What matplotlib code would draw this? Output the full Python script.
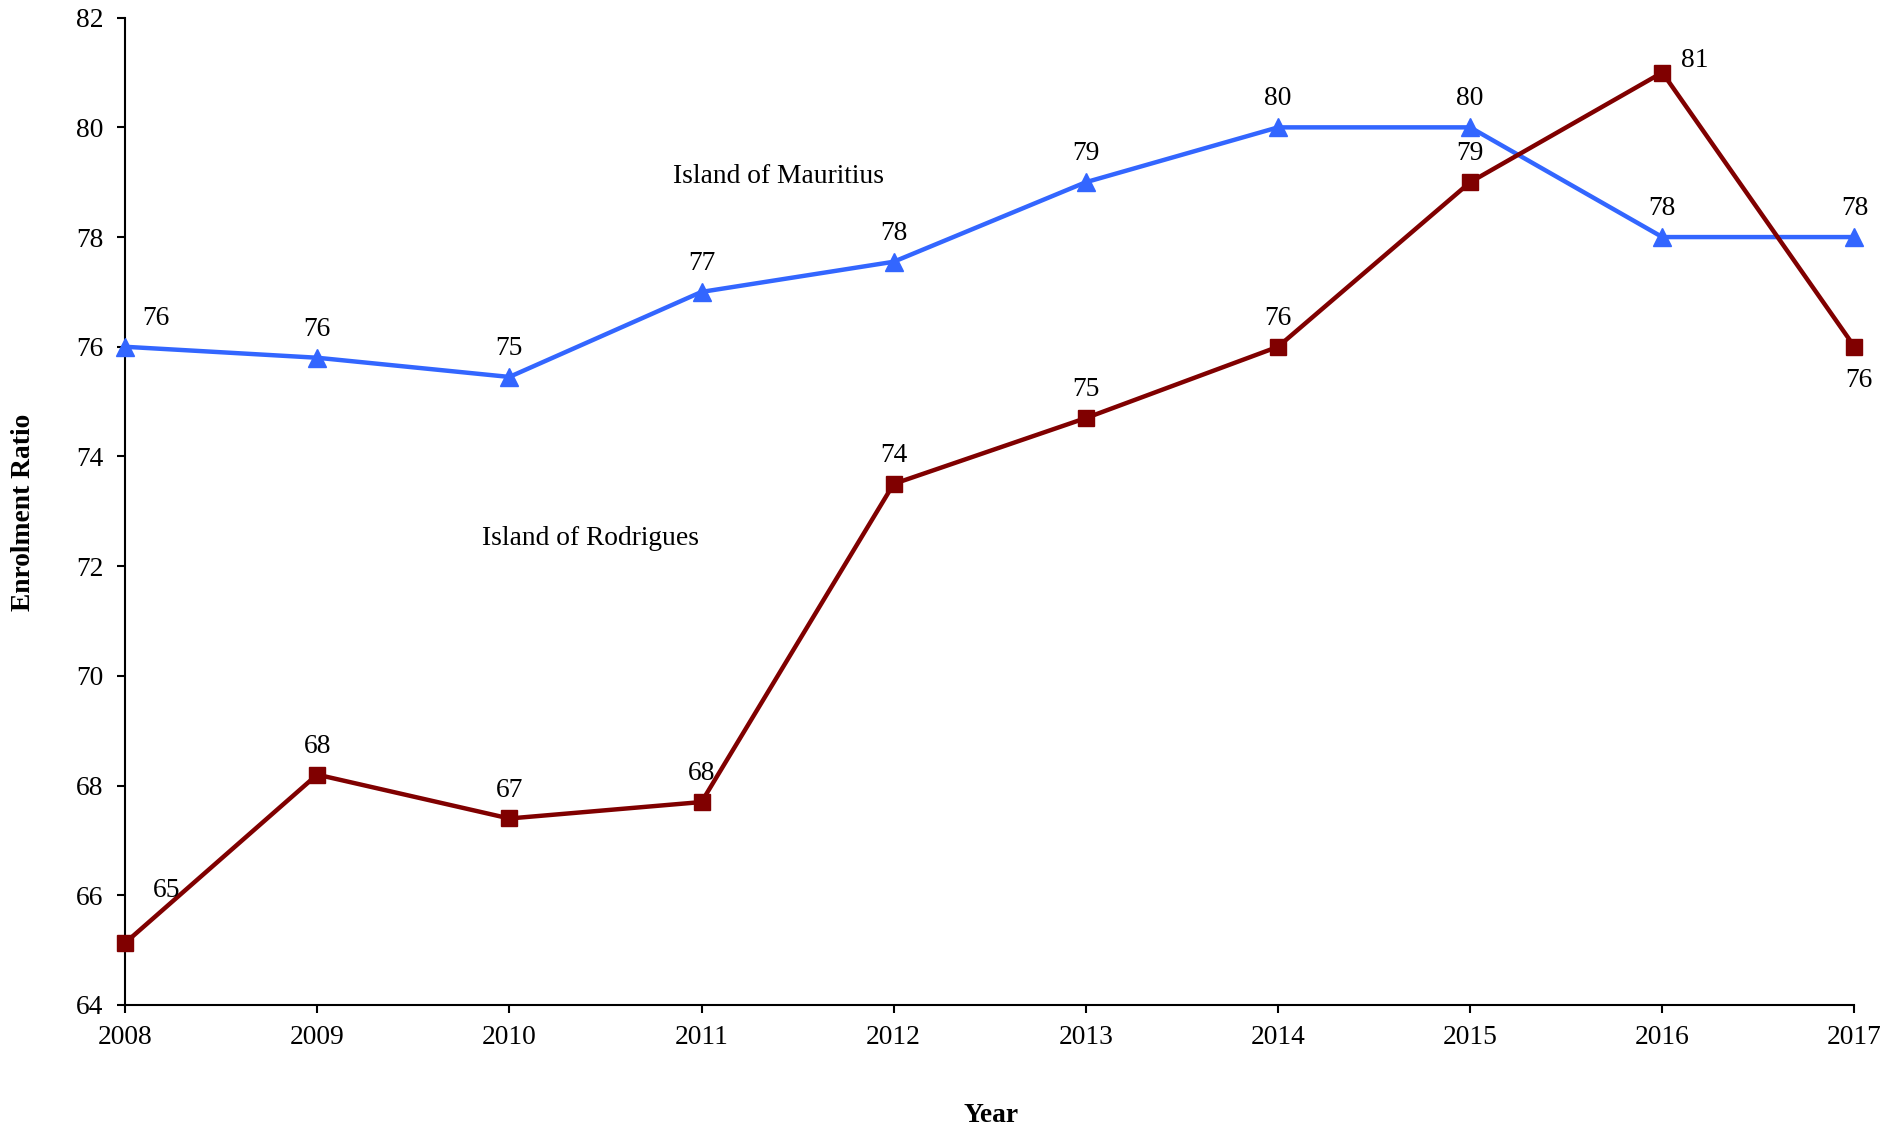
import matplotlib
matplotlib.use("Agg")
import matplotlib.pyplot as plt

# data
years = [2008, 2009, 2010, 2011, 2012, 2013, 2014, 2015, 2016, 2017]
mauritius = [76.0, 75.8, 75.45, 77.0, 77.55, 79.0, 80.0, 80.0, 78.0, 78.0]
rodrigues = [65.13, 68.2, 67.4, 67.7, 73.5, 74.7, 76.0, 79.0, 81.0, 76.0]
mauritius_labels = ["76", "76", "75", "77", "78", "79", "80", "80", "78", "78"]
rodrigues_labels = ["65", "68", "67", "68", "74", "75", "76", "79", "81", "76"]
yticks = [64, 66, 68, 70, 72, 74, 76, 78, 80, 82]

plt.rcParams['font.family'] = ['Liberation Serif', 'DejaVu Serif']
fs = 19.8

fig = plt.figure(figsize=(19.03, 11.32), dpi=100)
ax = fig.add_axes([0.0657, 0.1122, 0.9088, 0.8722])

blue = '#3366ff'
red = '#800000'
ax.plot(years, mauritius, color=blue, lw=3.2, marker='^', ms=13, clip_on=False, zorder=3)
ax.plot(years, rodrigues, color=red, lw=3.2, marker='s', ms=11.5, clip_on=False, zorder=3)

# label offsets in points (default: centred above the marker)
up = (0, 20.5)
m_off = [(22, 20)] + [up] * 9
r_off = [(30, 38)] + [up] * 7 + [(23, 9), (3, -24)]

for x, y, s, o in zip(years, mauritius, mauritius_labels, m_off):
    ax.annotate(s, (x, y), xytext=o, textcoords='offset points',
                ha='center', va='center', fontsize=fs)
for x, y, s, o in zip(years, rodrigues, rodrigues_labels, r_off):
    ax.annotate(s, (x, y), xytext=o, textcoords='offset points',
                ha='center', va='center', fontsize=fs)

ax.text(2011.40, 79.1, 'Island of Mauritius', ha='center', va='center', fontsize=fs)
ax.text(2010.42, 72.5, 'Island of Rodrigues', ha='center', va='center', fontsize=fs)

ax.set_xlim(2008, 2017)
ax.set_ylim(64, 82)
ax.set_xticks(years)
ax.set_yticks(yticks)
ax.tick_params(direction='out', length=5.5, width=1.5, labelsize=fs)
ax.tick_params(axis='y', pad=10)
ax.tick_params(axis='x', pad=9)
for side in ['top', 'right']:
    ax.spines[side].set_visible(False)
for side in ['left', 'bottom']:
    ax.spines[side].set_linewidth(1.5)

fig.text(991 / 1903, 1 - 1115 / 1132, 'Year', ha='center', va='center',
         fontsize=fs, fontweight='bold')
fig.text(24 / 1903, 1 - 512 / 1132, 'Enrolment Ratio', ha='center', va='center',
         rotation=90, fontsize=fs, fontweight='bold')

fig.savefig('out.png', dpi=100)
